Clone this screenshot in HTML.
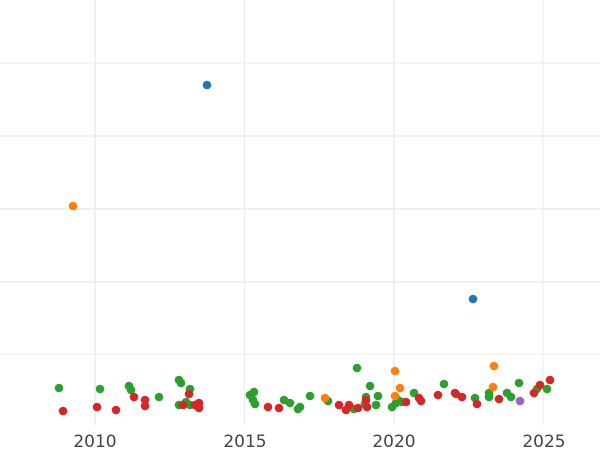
<!DOCTYPE html><html><head><style>body{margin:0;background:#fff}svg{display:block}</style></head><body>
<svg width="600" height="450" xmlns="http://www.w3.org/2000/svg">
<g stroke="#ebebeb">
<line x1="0" x2="600" y1="63" y2="63" stroke-width="1"/>
<line x1="0" x2="600" y1="136" y2="136" stroke-width="1.5"/>
<line x1="0" x2="600" y1="209" y2="209" stroke-width="1.5"/>
<line x1="0" x2="600" y1="282" y2="282" stroke-width="1.5"/>
<line x1="0" x2="600" y1="354" y2="354" stroke-width="1"/>
<line x1="95" x2="95" y1="0" y2="425" stroke-width="1.5"/>
<line x1="244.5" x2="244.5" y1="0" y2="425" stroke-width="1"/>
<line x1="394" x2="394" y1="0" y2="425" stroke-width="1.5"/>
<line x1="543" x2="543" y1="0" y2="425" stroke-width="1"/>
</g>
<g font-family="DejaVu Sans, Liberation Sans, sans-serif" font-size="17" fill="#444" text-anchor="middle">
<text x="95" y="447">2010</text><text x="245" y="447">2015</text><text x="394" y="447">2020</text><text x="544" y="447">2025</text>
</g>
<g fill="#2ca02c">
<circle cx="59" cy="388" r="4.3"/><circle cx="100" cy="389" r="4.3"/><circle cx="129" cy="386" r="4.3"/><circle cx="131" cy="390" r="4.3"/><circle cx="159" cy="397" r="4.3"/><circle cx="179" cy="380" r="4.3"/><circle cx="181" cy="383" r="4.3"/><circle cx="190" cy="389" r="4.3"/><circle cx="179" cy="405" r="4.3"/><circle cx="186" cy="402" r="4.3"/><circle cx="190" cy="405" r="4.3"/><circle cx="250" cy="395" r="4.3"/><circle cx="254" cy="392" r="4.3"/><circle cx="253" cy="400" r="4.3"/><circle cx="255" cy="404" r="4.3"/><circle cx="284" cy="400" r="4.3"/><circle cx="290" cy="403" r="4.3"/><circle cx="298" cy="409" r="4.3"/><circle cx="300" cy="407" r="4.3"/><circle cx="310" cy="396" r="4.3"/><circle cx="328" cy="401" r="4.3"/><circle cx="357" cy="368" r="4.3"/><circle cx="354" cy="409" r="4.3"/><circle cx="370" cy="386" r="4.3"/><circle cx="378" cy="396" r="4.3"/><circle cx="376" cy="405" r="4.3"/><circle cx="392" cy="407" r="4.3"/><circle cx="396" cy="403" r="4.3"/><circle cx="398" cy="400" r="4.3"/><circle cx="402" cy="402" r="4.3"/><circle cx="414" cy="393" r="4.3"/><circle cx="444" cy="384" r="4.3"/><circle cx="456" cy="394" r="4.3"/><circle cx="475" cy="398" r="4.3"/><circle cx="489" cy="397" r="4.3"/><circle cx="489" cy="393" r="4.3"/><circle cx="507" cy="393" r="4.3"/><circle cx="511" cy="397" r="4.3"/><circle cx="519" cy="383" r="4.3"/><circle cx="537" cy="389" r="4.3"/><circle cx="547" cy="389" r="4.3"/><circle cx="366" cy="397" r="4.3"/><circle cx="365" cy="404" r="4.3"/>
</g>
<g fill="#ff7f0e">
<circle cx="73" cy="206" r="4.3"/><circle cx="325" cy="398" r="4.3"/><circle cx="395" cy="371" r="4.3"/><circle cx="400" cy="388" r="4.3"/><circle cx="395" cy="396" r="4.3"/><circle cx="494" cy="366" r="4.3"/><circle cx="493" cy="387" r="4.3"/>
</g>
<g fill="#d62728">
<circle cx="63" cy="411" r="4.3"/><circle cx="97" cy="407" r="4.3"/><circle cx="116" cy="410" r="4.3"/><circle cx="134" cy="397" r="4.3"/><circle cx="145" cy="400" r="4.3"/><circle cx="145" cy="406" r="4.3"/><circle cx="189" cy="394" r="4.3"/><circle cx="183" cy="405" r="4.3"/><circle cx="195" cy="405" r="4.3"/><circle cx="199" cy="403" r="4.3"/><circle cx="199" cy="408" r="4.3"/><circle cx="268" cy="407" r="4.3"/><circle cx="279" cy="408" r="4.3"/><circle cx="339" cy="405" r="4.3"/><circle cx="346" cy="410" r="4.3"/><circle cx="349" cy="405" r="4.3"/><circle cx="358" cy="408" r="4.3"/><circle cx="366" cy="400" r="4.3"/><circle cx="367" cy="407" r="4.3"/><circle cx="406" cy="402" r="4.3"/><circle cx="419" cy="398" r="4.3"/><circle cx="421" cy="401" r="4.3"/><circle cx="438" cy="395" r="4.3"/><circle cx="455" cy="393" r="4.3"/><circle cx="462" cy="397" r="4.3"/><circle cx="477" cy="404" r="4.3"/><circle cx="499" cy="399" r="4.3"/><circle cx="534" cy="393" r="4.3"/><circle cx="540" cy="385" r="4.3"/><circle cx="550" cy="380" r="4.3"/>
</g>
<g fill="#1f77b4"><circle cx="207" cy="85" r="4.3"/><circle cx="473" cy="299" r="4.3"/></g>
<circle cx="520" cy="401" r="4.3" fill="#9467bd"/>
</svg></body></html>
